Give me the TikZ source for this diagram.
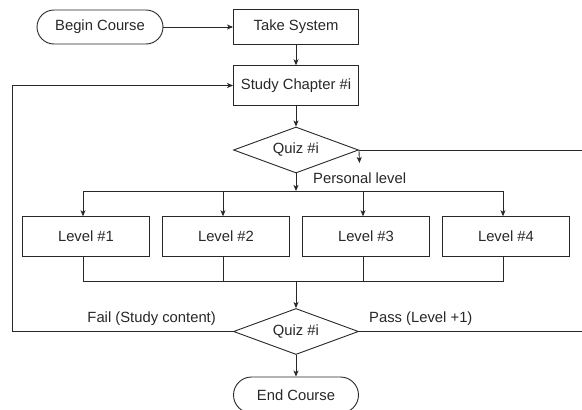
\documentclass[tikz,border=0pt]{standalone}
\usepackage{fontspec}
\setmainfont{Liberation Sans}
\usetikzlibrary{arrows.meta,shapes.geometric}
\definecolor{ink}{RGB}{40,40,40}
\begin{document}
\begin{tikzpicture}[x=1pt,y=-1pt,
  every node/.style={font=\fontsize{14.8}{17}\selectfont, text=ink},
  ln/.style={draw=ink, line width=0.9pt},
  arr/.style={ln, -{Stealth[length=6pt,width=5pt,inset=1.5pt]}},
  box/.style={draw=ink, line width=0.9pt, rectangle, inner sep=0pt, fill=white},
  term/.style={box, minimum width=126pt, minimum height=34pt, rounded corners=17pt},
  proc/.style={box, minimum width=125pt},
  lvl/.style={box, minimum width=126.5pt, minimum height=39.5pt},
  dec/.style={draw=ink, line width=0.9pt, shape=diamond, shape aspect=2.7, minimum width=125pt, minimum height=46pt, inner sep=0pt, fill=white},
  lbl/.style={inner sep=0pt}]
\path[use as bounding box] (0,0) rectangle (582,410);
\clip (0,0) rectangle (582,410);
\fill[white] (0,0) rectangle (582,410);

\node[term] (begin) at (100,27) {Begin Course};
\node[proc, minimum height=35pt] (take) at (296,27) {Take System};
\node[proc, minimum height=39.5pt] (study) at (296,85.5) {Study Chapter \#i};
\node[dec] (q1) at (296,150) {Quiz \#i};
\node[lvl] (l1) at (86,236.5) {Level \#1};
\node[lvl] (l2) at (226,236.5) {Level \#2};
\node[lvl] (l3) at (366,236.5) {Level \#3};
\node[lvl] (l4) at (506,236.5) {Level \#4};
\node[dec] (q2) at (296,331.5) {Quiz \#i};
\node[term, minimum width=125pt, minimum height=36pt, rounded corners=18pt] (end) at (296,395) {End Course};

\node[lbl, anchor=west] (pl) at (313,178) {Personal level};
\node[lbl, anchor=east] (fail) at (216,319) {Fail (Study content)};
\node[lbl, anchor=west] (pass) at (369,319) {Pass (Level +1)};

\coordinate (bt) at (296,191);
\coordinate (bb) at (296,281.7);
\coordinate (ledge) at (12,0);
\coordinate (redge) at (582,0);
\coordinate (pd) at (359.5,163);

\draw[arr] (begin) -- (take);
\draw[arr] (take) -- (study);
\draw[arr] (study) -- (q1);
\draw[arr] (q1.south) -- (bt);
\draw[ln] ([xshift=-3pt]l1.north |- bt) -- ([xshift=-3pt]l4.north |- bt);
\foreach \n in {l1,l2,l3,l4}{
  \draw[arr] ([xshift=-3pt]\n.north |- bt) -- ([xshift=-3pt]\n.north);
  \draw[ln] ([xshift=-3pt]\n.south) -- ([xshift=-3pt]\n.south |- bb);
}
\draw[ln] ([xshift=-3pt]l1.south |- bb) -- ([xshift=-3pt]l4.south |- bb);
\draw[arr] (bb) -- (q2.north);
\draw[arr] (q2.south) -- (end.north);

\draw[ln] (q1.east) -- (q1.east -| redge);
\draw[arr] (q1.east) -- (pd);
\draw[arr] (q2.west) -- (q2.west -| ledge) -- (study.west -| ledge) -- (study.west);
\draw[ln] (q2.east) -- (q2.east -| redge);
\end{tikzpicture}
\end{document}
